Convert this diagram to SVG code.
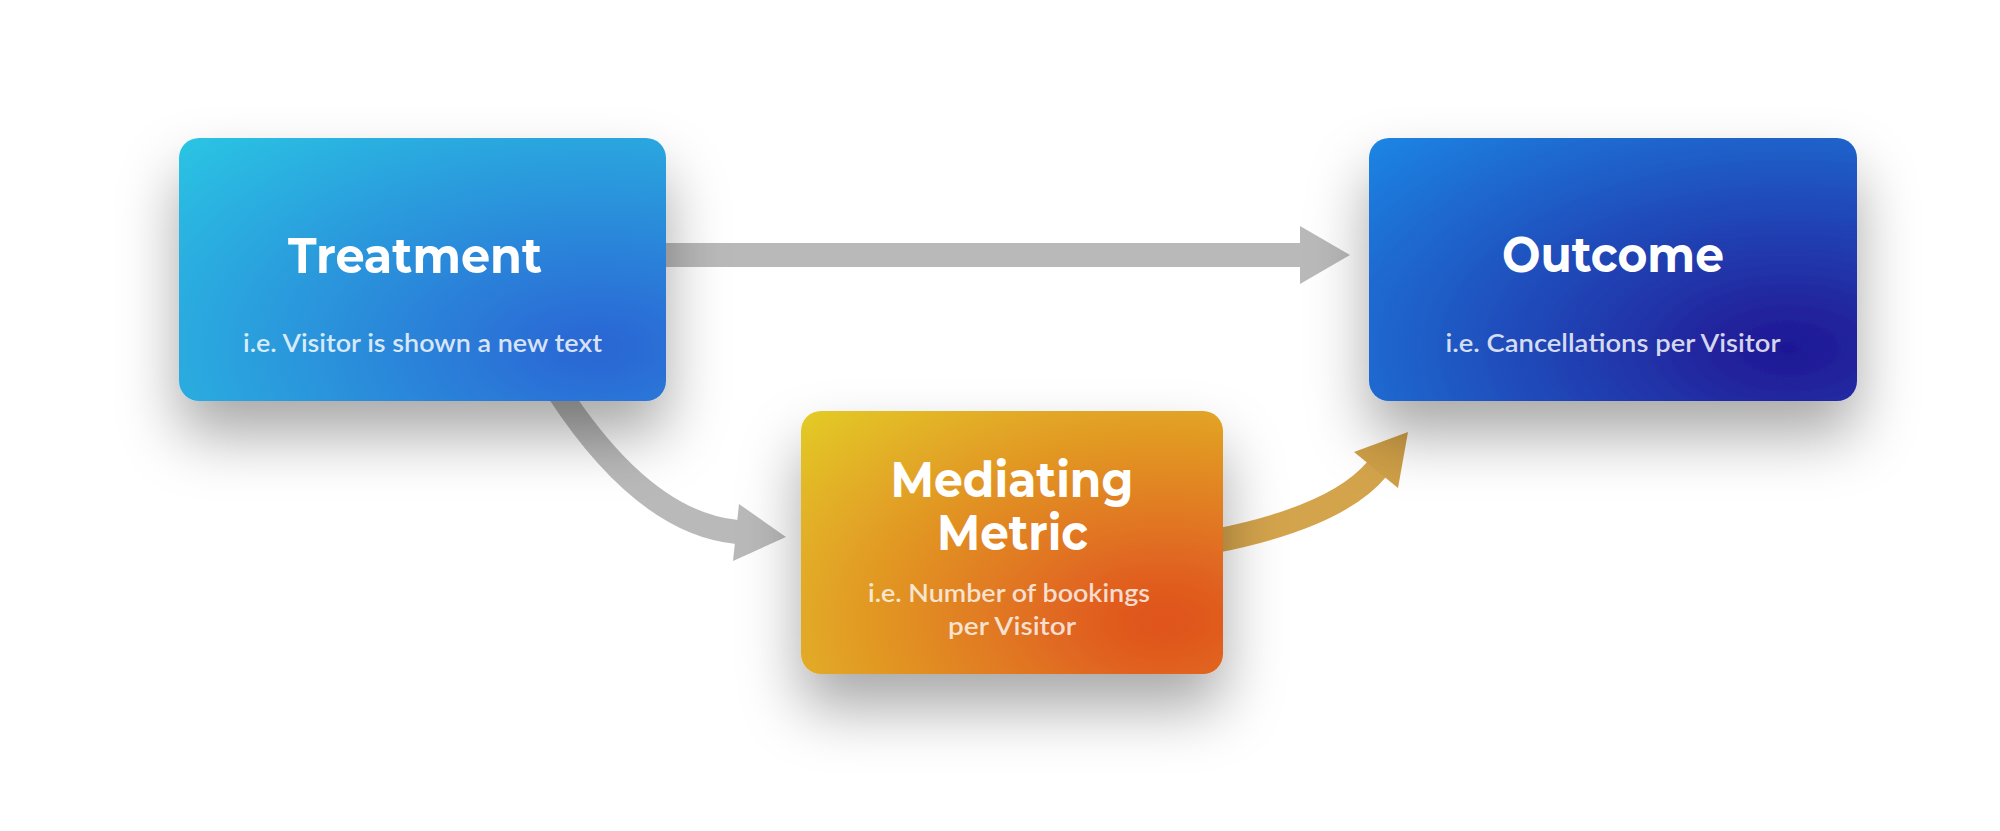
<svg xmlns="http://www.w3.org/2000/svg" width="2000" height="831" viewBox="0 0 2000 831">
<defs>
<radialGradient id="gTreat" cx="0.86" cy="0.8" r="1.15">
<stop offset="0" stop-color="#2b66d3"/>
<stop offset="0.12" stop-color="#2c6fd6"/>
<stop offset="1" stop-color="#2cc3e3"/>
</radialGradient>
<radialGradient id="gOut" cx="0.86" cy="0.8" r="1.15">
<stop offset="0" stop-color="#1f1896"/>
<stop offset="0.12" stop-color="#20229c"/>
<stop offset="1" stop-color="#1f84e3"/>
</radialGradient>
<radialGradient id="gMed" cx="0.86" cy="0.8" r="1.15">
<stop offset="0" stop-color="#df531d"/>
<stop offset="0.12" stop-color="#e05c1f"/>
<stop offset="1" stop-color="#e3c928"/>
</radialGradient>
<filter id="shadow" x="-40%" y="-40%" width="180%" height="210%">
<feDropShadow dx="0" dy="34" stdDeviation="30" flood-color="#000" flood-opacity="0.34"/>
</filter>
</defs>
<style>
.title{font-family:"Montserrat","Inter","Liberation Sans",sans-serif;font-weight:700;font-size:50px;fill:#ffffff;text-anchor:middle}
.sub{font-family:"Lato","Liberation Sans",sans-serif;font-weight:600;font-size:25px;text-anchor:middle}
.subb{fill:#ffffff;fill-opacity:0.82}
.subo{fill:#ffffff;fill-opacity:0.78}
.gray{fill:none;stroke:#b9b9b9;stroke-width:24}
.gold{fill:none;stroke:#d4a44c;stroke-width:24}
</style>
<rect x="0" y="0" width="2000" height="831" fill="#ffffff"/>
<g id="connectors">
<rect x="660" y="243" width="641" height="24" fill="#b9b9b9"/>
<polygon points="1300,226 1350,255 1300,284" fill="#b9b9b9"/>
<path class="gray" d="M558,391 Q644,523 737,532"/>
<polygon points="739,504 786,537 733,561" fill="#b9b9b9"/>
<path class="gold" d="M1215,541 Q1337,517 1377,469"/>
<polygon points="1354,452 1408,432 1398,488" fill="#cf9f47"/>
</g>
<g id="treatment">
<rect x="179" y="138" width="487" height="263" rx="20" fill="url(#gTreat)" filter="url(#shadow)"/>
<text class="title" x="415" y="273" textLength="254" lengthAdjust="spacingAndGlyphs">Treatment</text>
<text class="sub subb" x="422.5" y="352" textLength="359" lengthAdjust="spacingAndGlyphs">i.e. Visitor is shown a new text</text>
</g>
<g id="outcome">
<rect x="1369" y="138" width="488" height="263" rx="20" fill="url(#gOut)" filter="url(#shadow)"/>
<text class="title" x="1613" y="272" textLength="222" lengthAdjust="spacingAndGlyphs">Outcome</text>
<text class="sub subb" x="1613" y="352" textLength="335" lengthAdjust="spacingAndGlyphs">i.e. Cancellations per Visitor</text>
</g>
<g id="mediating">
<rect x="801" y="411" width="422" height="263" rx="20" fill="url(#gMed)" filter="url(#shadow)"/>
<text class="title" x="1012" y="497" textLength="243" lengthAdjust="spacingAndGlyphs">Mediating</text>
<text class="title" x="1012.5" y="550" textLength="151" lengthAdjust="spacingAndGlyphs">Metric</text>
<text class="sub subo" x="1009" y="602" textLength="282" lengthAdjust="spacingAndGlyphs">i.e. Number of bookings</text>
<text class="sub subo" x="1012" y="635" textLength="128" lengthAdjust="spacingAndGlyphs">per Visitor</text>
</g>
</svg>
